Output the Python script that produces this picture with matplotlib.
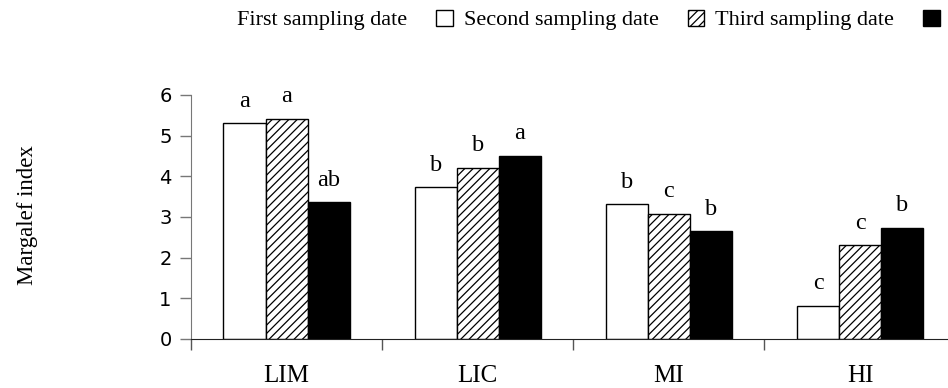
import numpy as np
import matplotlib
matplotlib.use("Agg")
import matplotlib.pyplot as plt

# Margalef index per site and sampling date
sites = ['LIM', 'LIC', 'MI', 'HI']
first_date = [5.30, 3.73, 3.31, 0.82]
second_date = [5.42, 4.21, 3.08, 2.30]
third_date = [3.36, 4.50, 2.65, 2.73]

# significance letters
first_letters = ['a', 'b', 'b', 'c']
second_letters = ['a', 'b', 'c', 'c']
third_letters = ['ab', 'a', 'b', 'b']

series_labels = ['First sampling date', 'Second sampling date', 'Third sampling date']

plt.rcParams['font.family'] = ['Liberation Serif', 'DejaVu Serif']
plt.rcParams['hatch.linewidth'] = 0.9
plt.rcParams['hatch.color'] = '#555555'

fig = plt.figure(figsize=(9.48, 3.88), dpi=100)
ax = fig.add_axes([191 / 948, 49 / 388, 1 - 191 / 948, 244 / 388])

x = np.arange(len(sites))
width = 0.22
styles = [dict(color='white'), dict(color='white', hatch='////'), dict(color='black')]
values = [first_date, second_date, third_date]
letters = [first_letters, second_letters, third_letters]

handles = []
for i, (vals, labs, st) in enumerate(zip(values, letters, styles)):
    bars = ax.bar(x + (i - 1) * width, vals, width, edgecolor='black', linewidth=1.0,
                  label=series_labels[i], **st)
    handles.append(bars)
    for b, lab in zip(bars, labs):
        ax.annotate(lab, (b.get_x() + b.get_width() / 2, b.get_height()),
                    xytext=(0, 12), textcoords='offset points', ha='center',
                    va='baseline', fontsize=17.5, annotation_clip=False)

ax.set_xlim(-0.5, 3.46)
ax.set_ylim(0, 6)
ax.set_yticks(range(0, 7))
ax.set_yticklabels([str(v) for v in range(0, 7)], family=['Liberation Sans Narrow', 'DejaVu Sans'],
                   fontsize=14)
ax.tick_params(axis='y', length=8, width=1, color='#777777', pad=6)

ax.set_xticks(x)
ax.set_xticklabels(sites, fontsize=18)
ax.tick_params(axis='x', length=0, pad=19)
ax.set_xticks(np.arange(-0.5, 3.5, 1.0), minor=True)
ax.tick_params(axis='x', which='minor', length=8, width=1, color='#555555', direction='out')

ax.spines['top'].set_visible(False)
ax.spines['right'].set_visible(False)
ax.spines['left'].set_color('#777777')
ax.spines['bottom'].set_color('#222222')

fig.text(28 / 948, 1 - 215 / 388, 'Margalef index', rotation=90, ha='center', va='center',
         fontsize=16.5)

fig.legend(handles, series_labels, loc='center left', bbox_to_anchor=(237 / 948, 1 - 20 / 388),
           ncol=3, frameon=False, markerfirst=False, fontsize=16, handlelength=0.75,
           handleheight=0.75, handletextpad=1.3, columnspacing=0.5, borderpad=0,
           borderaxespad=0)

fig.savefig('out.png', dpi=100)
